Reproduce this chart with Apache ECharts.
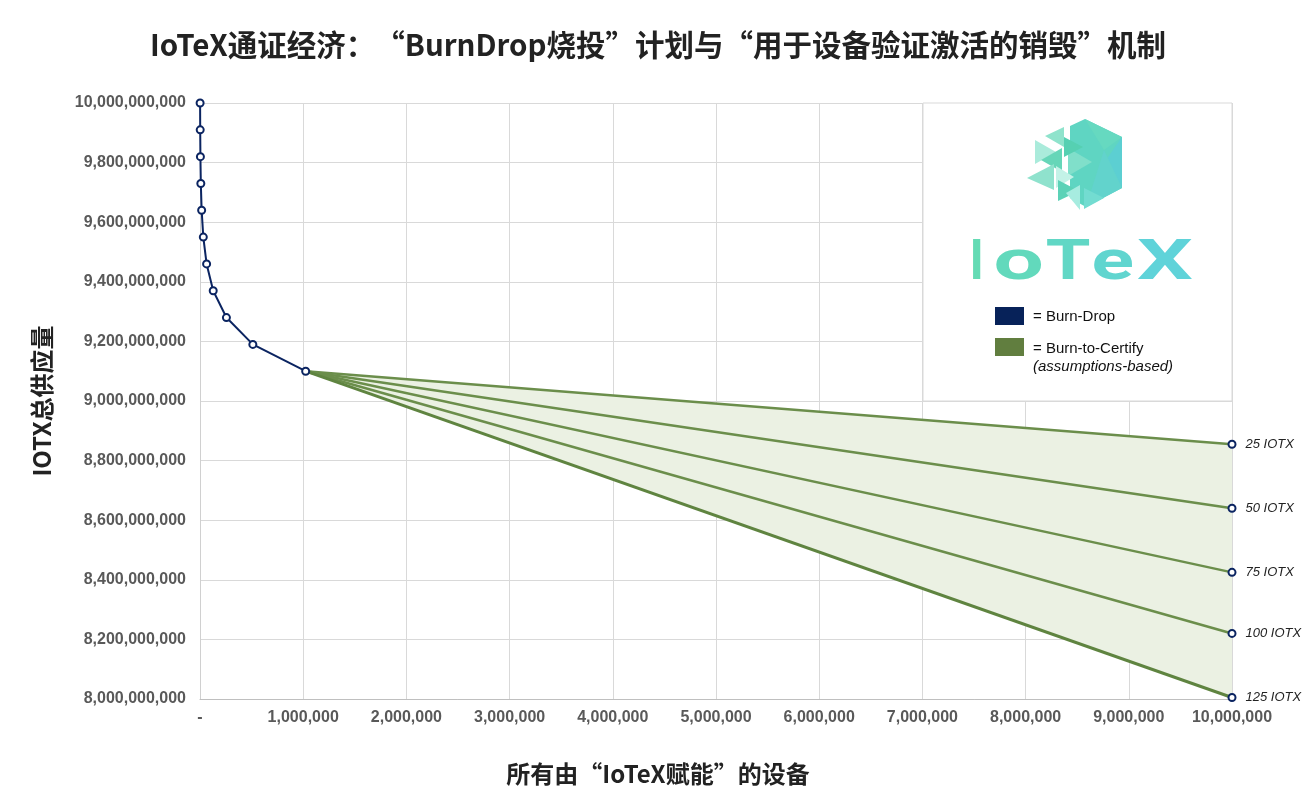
<!DOCTYPE html>
<html>
<head>
<meta charset="utf-8">
<script src="https://cdn.jsdelivr.net/npm/echarts@6/dist/echarts.min.js"></script>
<style>html,body{margin:0;padding:0;background:#fff;}#c{width:1316px;height:806px;}</style>
</head>
<body>
<div id="c"></div>
<script>
// ---- data ----
const burnDropDevices = [1000, 2000, 4000, 8000, 16000, 32000, 64000, 128000, 256000, 512000, 1024000];
const burnDropSupply = [10000e6, 9910e6, 9820e6, 9730e6, 9640e6, 9550e6, 9460e6, 9370e6, 9280e6, 9190e6, 9100e6];
const certifyStartDevices = 1024000;
const certifyStartSupply = 9100e6;
const certifyEndDevices = 10000000;
const certifyLabels = ['25 IOTX', '50 IOTX', '75 IOTX', '100 IOTX', '125 IOTX'];
const certifyEndSupply = [8855e6, 8640e6, 8425e6, 8220e6, 8005e6];
const yTicks = { min: 8000e6, max: 10000e6, interval: 200e6 };
const xTicks = { min: 0, max: 10000000, interval: 1000000 };

const NAVY = '#0b2461';
const GREEN = '#6b8e4b';
const GREEN_DARK = '#5f8440';

const fmt = v => v === 0 ? '-' : Math.round(v).toString().replace(/\B(?=(\d{3})+(?!\d))/g, ',');

const chart = echarts.init(document.getElementById('c'));

const certifySeries = certifyLabels.map((lab, i) => ({
  type: 'line',
  name: lab,
  z: 3,
  data: [
    { value: [certifyStartDevices, certifyStartSupply], symbol: 'none' },
    { value: [certifyEndDevices, certifyEndSupply[i]], label: {
        show: true, position: 'right', distance: 9, formatter: lab,
        fontFamily: 'Liberation Sans', fontStyle: 'italic', fontSize: 13, color: '#222'
      } }
  ],
  symbol: 'emptyCircle',
  symbolSize: 7,
  lineStyle: { color: i === certifyLabels.length - 1 ? GREEN_DARK : GREEN, width: i === certifyLabels.length - 1 ? 3 : 2.5 },
  itemStyle: { color: NAVY, borderColor: NAVY, borderWidth: 2 },
  emphasis: { disabled: true },
  animation: false
}));

const fillSeries = {
  type: 'custom',
  z: 2,
  silent: true,
  data: [0],
  renderItem: (params, api) => {
    const pts = [
      api.coord([certifyStartDevices, certifyStartSupply]),
      api.coord([certifyEndDevices, certifyEndSupply[0]]),
      api.coord([certifyEndDevices, certifyEndSupply[certifyEndSupply.length - 1]])
    ];
    return { type: 'polygon', shape: { points: pts }, style: { fill: '#ebf1e3' } };
  },
  animation: false
};

const logoTris = [
  { p: [[1085,119],[1122,137],[1122,188],[1086,207],[1070,198],[1070,126]], c: '#5fd5c2' },
  { p: [[1085,119],[1122,137],[1104,150]], c: '#66d9c0' },
  { p: [[1122,137],[1122,188],[1104,163]], c: '#5ccfd2' },
  { p: [[1104,150],[1122,188],[1086,207]], c: '#62d3cc' },
  { p: [[1068,148],[1092,162],[1068,176]], c: '#80dfca' },
  { p: [[1045,136],[1064,127],[1064,147]], c: '#8fe3cc' },
  { p: [[1064,137],[1083,147],[1064,157]], c: '#56d0b2' },
  { p: [[1035,140],[1056,152],[1035,164]], c: '#aaebdb' },
  { p: [[1041,160],[1062,148],[1062,172]], c: '#66d6b8' },
  { p: [[1027,178],[1054,164],[1054,190]], c: '#8fe2cd' },
  { p: [[1056,166],[1074,177],[1056,188]], c: '#c3f2e7' },
  { p: [[1058,180],[1079,191],[1058,201]], c: '#5cd2b7' },
  { p: [[1066,193],[1080,185],[1080,210]], c: '#a7ece0' },
  { p: [[1084,188],[1104,198],[1084,209]], c: '#73dcd1' }
];

const graphics = [
  { type: 'rect', z: 1, shape: { x: 923, y: 103, width: 309, height: 298 }, style: { fill: '#fff', stroke: '#d9d9d9', lineWidth: 1 }, silent: true }
];
logoTris.forEach(t => graphics.push({ type: 'polygon', z: 5, shape: { points: t.p }, style: { fill: t.c }, silent: true }));

// logo wordmark: each letter fitted to its box
const logoLetters = [
  { ch: 'I', l: 973, r: 981, c: '#64dbb4' },
  { ch: 'o', l: 995, r: 1042, c: '#62d9bc' },
  { ch: 'T', l: 1047, r: 1089, c: '#61d7c5' },
  { ch: 'e', l: 1093, r: 1133, c: '#60d5cf' },
  { ch: 'X', l: 1137, r: 1193, c: '#5fd3d9' }
];
const LOGO_BASELINE = 279;
const mctx = document.createElement('canvas').getContext('2d');
mctx.font = 'bold 55px Roboto';
mctx.textBaseline = 'middle';
logoLetters.forEach(L => {
  const m = mctx.measureText(L.ch);
  const inkL = -m.actualBoundingBoxLeft;
  const inkR = m.actualBoundingBoxRight;
  const s = (L.r - L.l) / Math.max(1, inkR - inkL);
  const mI = mctx.measureText('I');
  const yMid = LOGO_BASELINE - mI.actualBoundingBoxDescent;
  graphics.push({
    type: 'text', z: 5, x: L.l - inkL * s, y: yMid, scaleX: s, silent: true,
    style: { text: L.ch, x: 0, y: 0, verticalAlign: 'middle', align: 'left',
      fontFamily: 'Roboto', fontWeight: 'bold', fontSize: 55, fill: L.c }
  });
});

graphics.push({ type: 'rect', z: 5, shape: { x: 995, y: 307, width: 29, height: 18 }, style: { fill: '#072259' }, silent: true });
graphics.push({ type: 'text', z: 5, x: 1033, y: 317, style: { text: '= Burn-Drop', fontFamily: 'Liberation Sans', fontSize: 15, fill: '#111', verticalAlign: 'middle' }, silent: true });
graphics.push({ type: 'rect', z: 5, shape: { x: 995, y: 338, width: 29, height: 18 }, style: { fill: '#617e3f' }, silent: true });
graphics.push({ type: 'text', z: 5, x: 1033, y: 349, style: { text: '= Burn-to-Certify', fontFamily: 'Liberation Sans', fontSize: 15, fill: '#111', verticalAlign: 'middle' }, silent: true });
graphics.push({ type: 'text', z: 5, x: 1033, y: 367, style: { text: '(assumptions-based)', fontFamily: 'Liberation Sans', fontStyle: 'italic', fontSize: 15, fill: '#111', verticalAlign: 'middle' }, silent: true });

chart.setOption({
  animation: false,
  backgroundColor: '#fff',
  title: [
    { text: 'IoTeX通证经济：“BurnDrop烧投”计划与“用于设备验证激活的销毁”机制', left: 'center', top: 25,
      textStyle: { fontFamily: 'Noto Sans CJK SC', fontWeight: 'bold', fontSize: 29.5, color: '#222' } },
    { text: '所有由“IoTeX赋能”的设备', left: 'center', top: 757,
      textStyle: { fontFamily: 'Noto Sans CJK SC', fontWeight: 'bold', fontSize: 24, color: '#222' } }
  ],
  grid: { left: 200, right: 84, top: 103, bottom: 107, containLabel: false },
  xAxis: {
    type: 'value', min: xTicks.min, max: xTicks.max, interval: xTicks.interval,
    axisLine: { show: true, lineStyle: { color: '#bfbfbf' } },
    axisTick: { show: false },
    splitLine: { show: true, lineStyle: { color: '#d9d9d9' } },
    axisLabel: { formatter: fmt, margin: 11, fontFamily: 'Liberation Sans', fontWeight: 'bold', fontSize: 16, color: '#595959' }
  },
  yAxis: {
    type: 'value', min: yTicks.min, max: yTicks.max, interval: yTicks.interval,
    name: 'IOTX总供应量', nameLocation: 'middle', nameGap: 146, nameRotate: 90,
    nameTextStyle: { fontFamily: 'Noto Sans CJK SC', fontWeight: 'bold', fontSize: 24, color: '#222' },
    axisLine: { show: true, lineStyle: { color: '#d0d0d0' } },
    axisTick: { show: false },
    splitLine: { show: true, lineStyle: { color: '#d9d9d9' } },
    axisLabel: { formatter: fmt, margin: 14, fontFamily: 'Liberation Sans', fontWeight: 'bold', fontSize: 16, color: '#595959' }
  },
  graphic: graphics,
  series: [
    fillSeries,
    ...certifySeries,
    {
      type: 'line', name: 'Burn-Drop', z: 4,
      data: burnDropDevices.map((d, i) => [d, burnDropSupply[i]]),
      symbol: 'emptyCircle', symbolSize: 7,
      lineStyle: { color: NAVY, width: 2 },
      itemStyle: { color: NAVY, borderColor: NAVY, borderWidth: 2 },
      emphasis: { disabled: true }
    }
  ]
});
</script>
</body>
</html>
